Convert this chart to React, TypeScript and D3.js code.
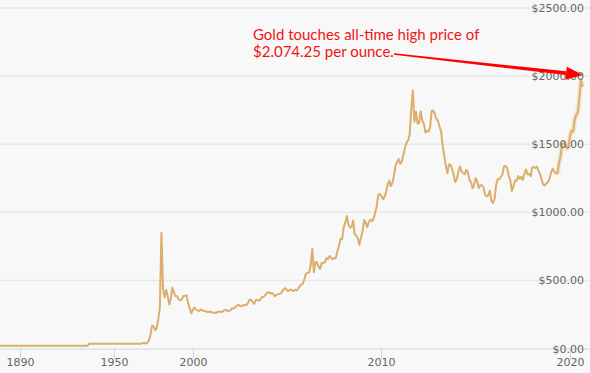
import * as d3 from "d3";

// annual prices 1877-1999, then monthly averages from 2000-01
const annualStart = 1877;
const annualPrices = [
  20.67, 20.67, 20.67, 20.67, 20.67, 20.67, 20.67, 20.67, 20.67, 20.67,
  20.67, 20.67, 20.67, 20.67, 20.67, 20.67, 20.67, 20.67, 20.67, 20.67,
  20.67, 20.67, 20.67, 20.67, 20.67, 20.67, 20.67, 20.67, 20.67, 20.67,
  20.67, 20.67, 20.67, 20.67, 20.67, 20.67, 20.67, 20.67, 20.67, 20.67,
  20.67, 20.67, 20.67, 20.67, 20.67, 20.67, 20.67, 20.67, 20.67, 20.67,
  20.67, 20.67, 20.67, 20.67, 20.67, 20.67, 20.67,
  34.7, 35, 35, 35, 35, 35, 35, 35, 35, 35,
  35, 35, 35, 35, 35, 35.5, 35.5, 35.2, 35.2, 35.1,
  35.3, 35.3, 35.2, 35.3, 35.3, 35.3, 35.3, 35.3, 35.3, 35.3,
  35.3, 35.3, 35.3, 35.3,
  39.3, 41.3, 36, 41, 58, 97, 168, 163, 135, 150,
  215, 300, 850, 440, 375, 430, 385, 323, 368, 446,
  410, 385, 383, 362, 352, 362, 386, 386, 390, 331,
  294, 258,
];

const monthlyStart = 2000;
const prices2000 = [284, 301, 286, 280, 275, 286, 282, 275, 274, 270, 266, 272];
const prices2001 = [266, 262, 263, 261, 272, 270, 268, 272, 283, 283, 276, 276];
const prices2002 = [282, 296, 294, 303, 315, 321, 313, 310, 319, 317, 319, 333];
const prices2003 = [357, 359, 341, 328, 356, 356, 351, 360, 379, 379, 390, 408];
const prices2004 = [414, 405, 407, 403, 384, 392, 398, 401, 405, 421, 439, 442];
const prices2005 = [424, 423, 434, 429, 422, 431, 425, 438, 456, 470, 477, 510];
const prices2006 = [550, 555, 557, 611, 730, 560, 634, 633, 598, 586, 628, 630];
const prices2007 = [631, 665, 656, 679, 667, 656, 665, 665, 713, 755, 806, 803];
const prices2008 = [890, 922, 972, 910, 889, 890, 940, 839, 830, 807, 761, 816];
const prices2009 = [859, 943, 924, 890, 929, 946, 934, 950, 997, 1043, 1127, 1135];
const prices2010 = [1118, 1095, 1113, 1149, 1205, 1233, 1193, 1216, 1271, 1342, 1370, 1391];
const prices2011 = [1356, 1373, 1424, 1474, 1510, 1529, 1573, 1760, 1895, 1665, 1739, 1652];
const prices2012 = [1656, 1742, 1674, 1650, 1586, 1597, 1594, 1626, 1745, 1747, 1722, 1685];
const prices2013 = [1672, 1628, 1593, 1488, 1414, 1343, 1286, 1352, 1349, 1317, 1276, 1222];
const prices2014 = [1244, 1300, 1336, 1299, 1288, 1279, 1311, 1295, 1237, 1223, 1176, 1202];
const prices2015 = [1252, 1227, 1179, 1199, 1199, 1182, 1128, 1118, 1125, 1159, 1086, 1068];
const prices2016 = [1098, 1200, 1245, 1242, 1261, 1276, 1337, 1340, 1327, 1267, 1238, 1157];
const prices2017 = [1192, 1234, 1231, 1267, 1246, 1260, 1237, 1283, 1314, 1280, 1282, 1265];
const prices2018 = [1331, 1331, 1325, 1335, 1304, 1282, 1238, 1202, 1198, 1215, 1221, 1250];
const prices2019 = [1292, 1320, 1301, 1286, 1284, 1359, 1413, 1500, 1511, 1495, 1470, 1479];
const prices2020 = [1561, 1597, 1592, 1683, 1716, 1732, 1847, 1969, 1922];

const monthlyPrices = [
  prices2000, prices2001, prices2002, prices2003, prices2004, prices2005, prices2006,
  prices2007, prices2008, prices2009, prices2010, prices2011, prices2012, prices2013,
  prices2014, prices2015, prices2016, prices2017, prices2018, prices2019, prices2020,
];

const xTickLabels = ["1890", "1950", "2000", "2010", "2020"];
const yTicks = [0, 500, 1000, 1500, 2000, 2500];
const noteLines = ["Gold touches all-time high price of", "$2.074.25 per ounce."];
const peakKey = "2020-08";
const peakValue = 2000;

interface Point {
  key: string;
  value: number;
}

const data: Point[] = [];
annualPrices.forEach((v, i) => data.push({ key: String(annualStart + i), value: v }));
monthlyPrices.forEach((arr, yi) =>
  arr.forEach((v, m) =>
    data.push({
      key: `${monthlyStart + yi}-${String(m + 1).padStart(2, "0")}`,
      value: v,
    })
  )
);

const tickKey = (label: string) =>
  +label < monthlyStart ? label : `${label}-01`;

const W = 590;
const H = 373;
const step = 1.5714;

const x = d3
  .scalePoint<string>()
  .domain(data.map((d) => d.key))
  .range([-0.43, -0.43 + step * (data.length - 1)]);

const y = d3.scaleLinear().domain([0, 2500]).range([348.5, 8]);

const line = d3
  .line<Point>()
  .x((d) => x(d.key)!)
  .y((d) => y(d.value));

const tail = data.slice(data.findIndex((d) => d.key === "2019-05"));

export default function App() {
  const tipX = x(peakKey)! + 2;
  const tipY = y(peakValue) - 1;
  const startX = 394;
  const startY = 54;
  const ang = Math.atan2(tipY - startY, tipX - startX);
  const headLen = 17;
  const headW = 6.5;
  const bx = tipX - headLen * Math.cos(ang);
  const by = tipY - headLen * Math.sin(ang);
  const nx = -Math.sin(ang);
  const ny = Math.cos(ang);
  const shaft = [
    [startX + nx * 0.8, startY + ny * 0.8],
    [bx + nx * 1.9, by + ny * 1.9],
    [bx - nx * 1.9, by - ny * 1.9],
    [startX - nx * 0.8, startY - ny * 0.8],
  ];
  const head = [
    [tipX, tipY],
    [bx + nx * headW, by + ny * headW],
    [bx - nx * headW, by - ny * headW],
  ];

  return (
    <svg
      width={W}
      height={H}
      style={{ position: "absolute", left: 0, top: 0 }}
      fontFamily="'DejaVu Sans', sans-serif"
    >
      <rect width={W} height={H} fill="#f8f8f8" />
      {yTicks.slice(1).map((t) => (
        <line key={t} x1={0} x2={W} y1={y(t)} y2={y(t)} stroke="#e8e8e8" strokeWidth={1.5} />
      ))}
      <line x1={0} x2={W} y1={y(0) + 0.5} y2={y(0) + 0.5} stroke="#ccd6eb" strokeWidth={1} />
      {xTickLabels.map((lbl) => {
        const tx = Math.round(x(tickKey(lbl))!) + 0.5;
        return (
          <g key={lbl}>
            <line x1={tx} x2={tx} y1={y(0)} y2={y(0) + 10} stroke="#ccd6eb" strokeWidth={1} />
            <text x={tx} y={366} textAnchor="middle" fontSize={11} fill="#666666">
              {lbl}
            </text>
          </g>
        );
      })}
      <path d={line(tail)!} fill="none" stroke="#e6c79a" strokeOpacity={0.4} strokeWidth={5} strokeLinejoin="round" />
      <path d={line(data)!} fill="none" stroke="#dcae6c" strokeWidth={2} strokeLinejoin="round" />
      {yTicks.map((t) => (
        <text key={t} x={584} y={y(t) + 4} textAnchor="end" fontSize={11} fill="#666666">
          {`$${t.toFixed(2)}`}
        </text>
      ))}
      <g fontFamily="Lato, 'Open Sans', sans-serif" fontSize={15} fill="#f01414">
        {noteLines.map((s, i) => (
          <text key={i} x={253} y={40 + i * 17}>
            {s}
          </text>
        ))}
      </g>
      <polygon points={shaft.map((p) => p.join(",")).join(" ")} fill="#ff0000" />
      <polygon points={head.map((p) => p.join(",")).join(" ")} fill="#ff0000" />
    </svg>
  );
}
